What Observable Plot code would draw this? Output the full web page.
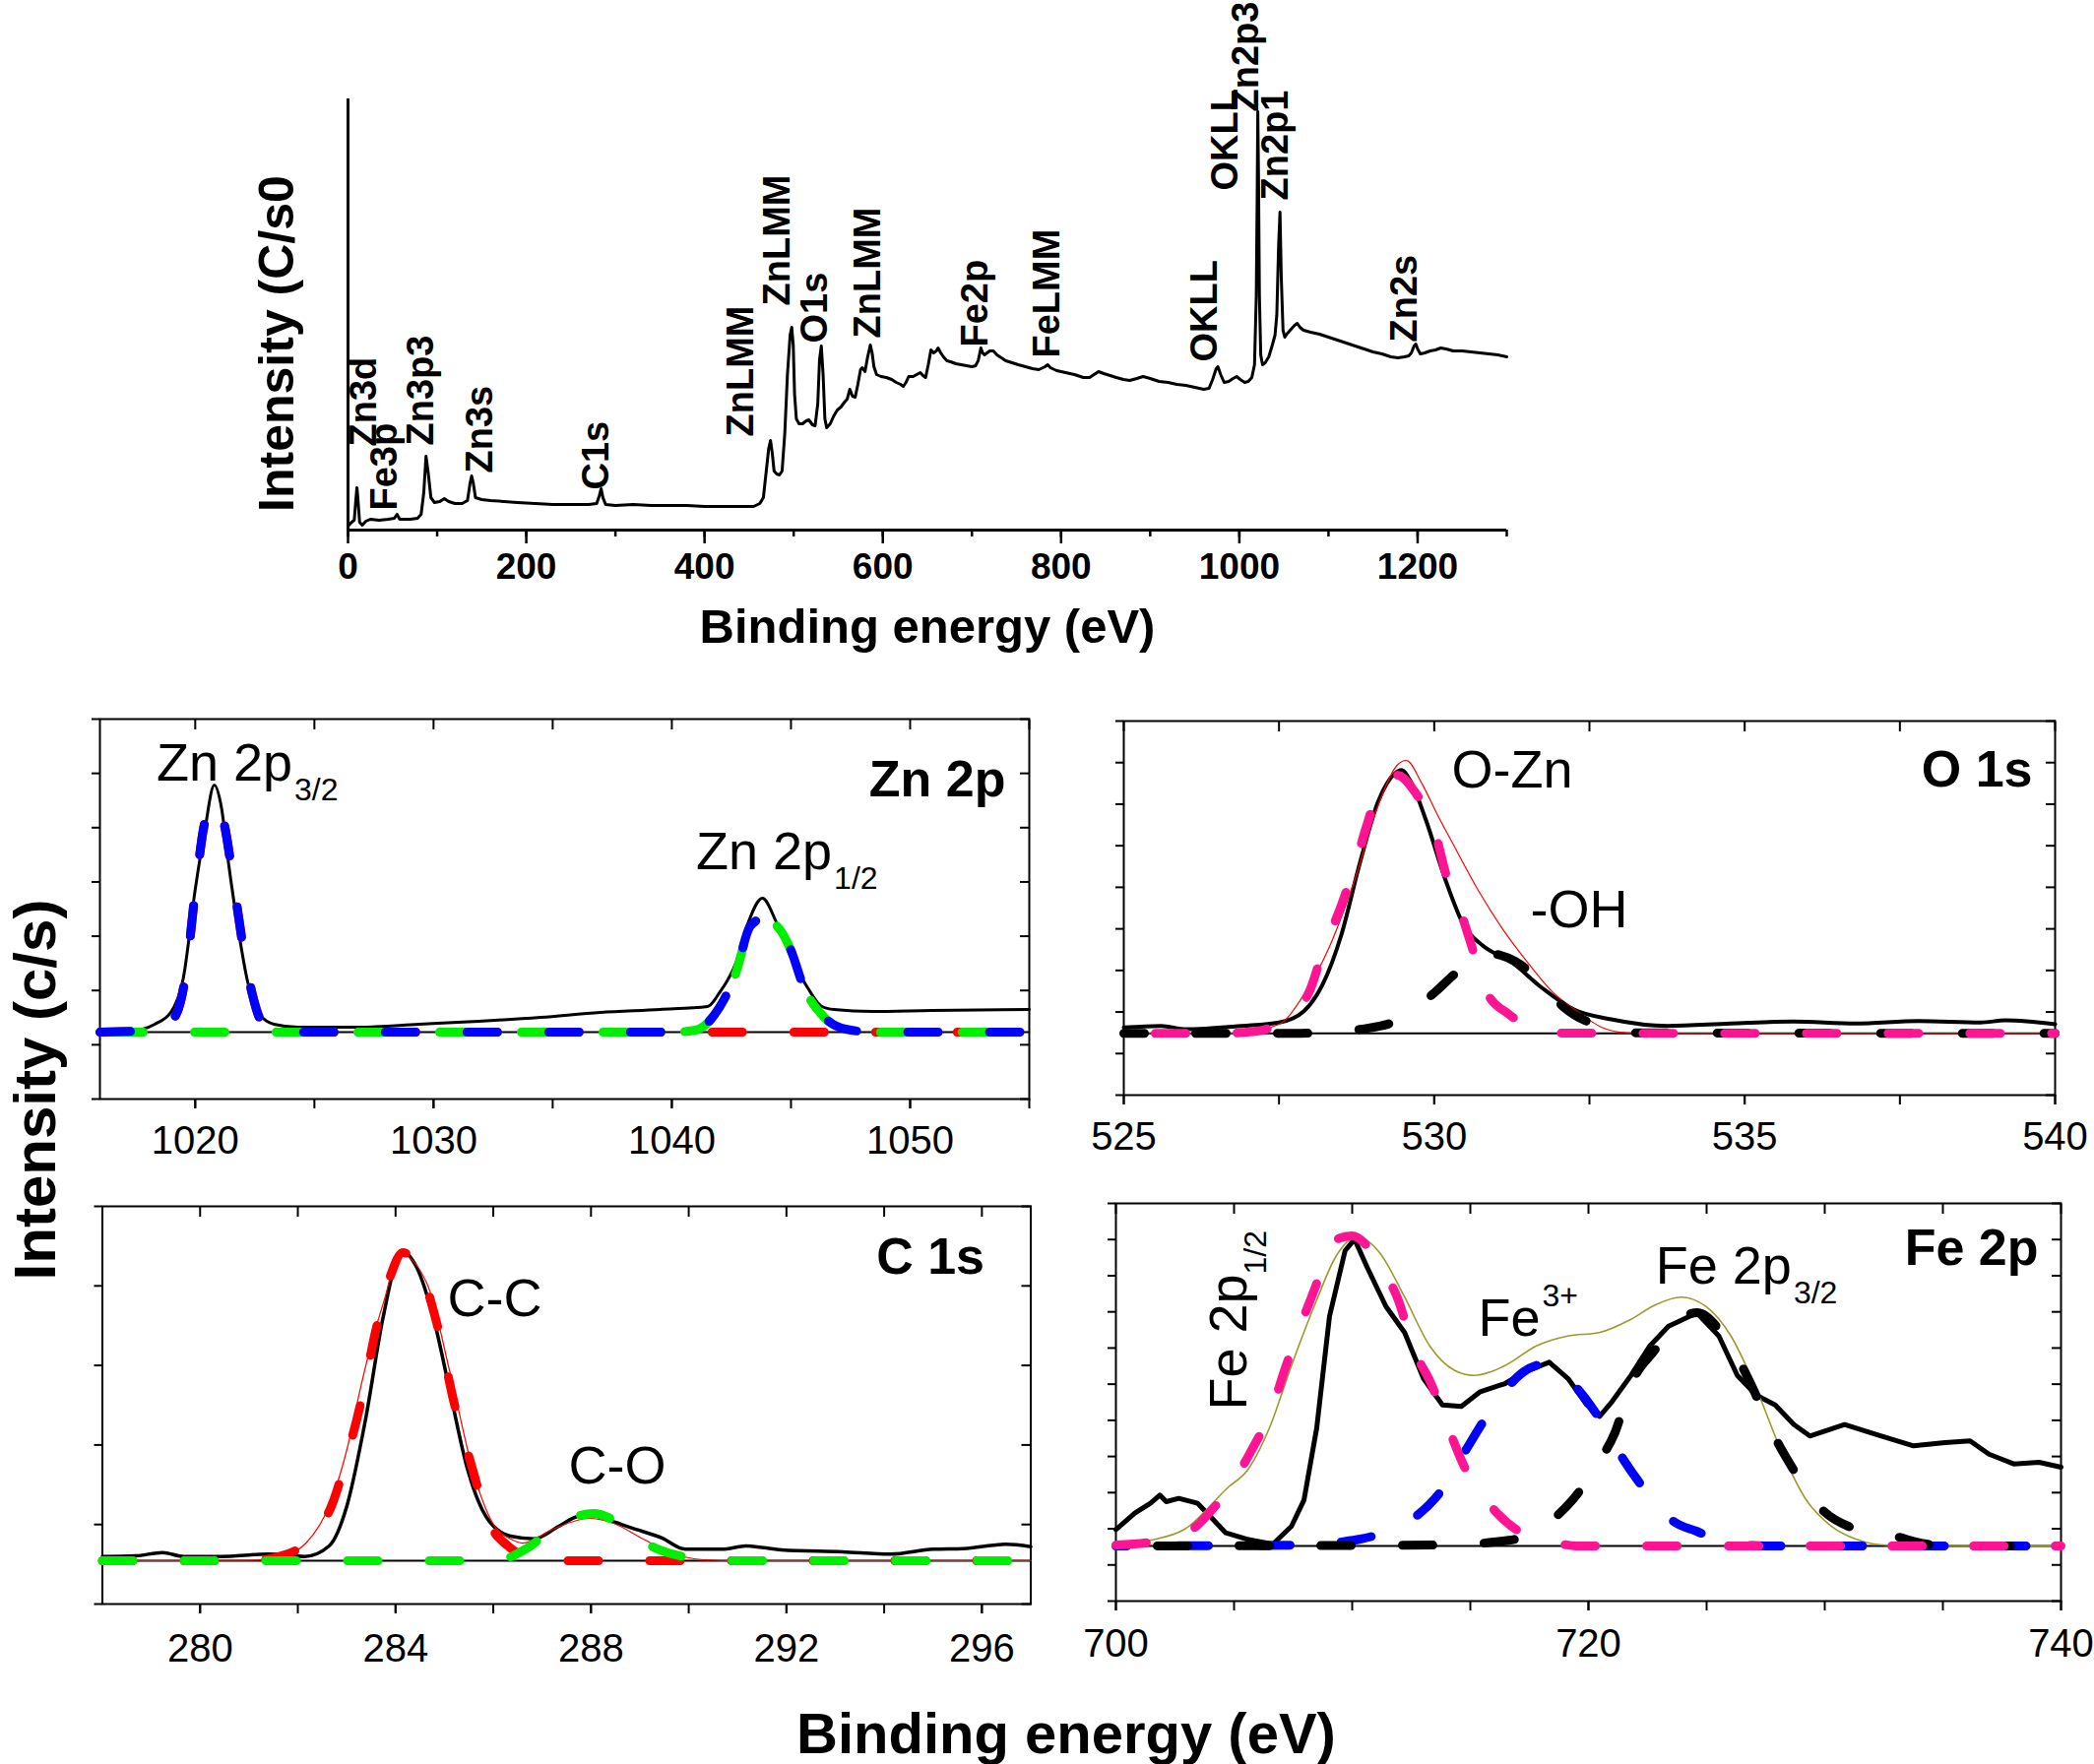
<!DOCTYPE html>
<html>
<head>
<meta charset="utf-8">
<script src="https://cdn.jsdelivr.net/npm/d3@7"></script>
<script src="https://cdn.jsdelivr.net/npm/@observablehq/plot@0.6"></script>
<style>
  html, body { margin: 0; padding: 0; background: #fff; }
  #root { position: relative; width: 2127px; height: 1792px; overflow: hidden; font-family: "Liberation Sans", Arial, Helvetica, sans-serif; color: #000; }
  .panel { position: absolute; }
  .panel svg { overflow: visible; max-width: none; }
  .lbl { position: absolute; font-weight: bold; white-space: nowrap; line-height: 1; }
</style>
</head>
<body>
<div id="root"></div>
<script>
// ---------------- DATA ----------------
// Survey spectrum: [binding energy (eV), intensity (arb. C/s)]
const survey = [
[0,4],[4,8],[7,10],[9,33],[10,43],[11,33],[13,8],[16,5],[20,9],[25,11],[35,10],[45,11],[52,12],[55,16],[58,11],[70,11],[78,12],[82,16],[85,38],[87.5,75],[90,58],[93,33],[97,28],[103,29],[108,32],[113,29],[120,27],[128,27],[134,30],[137,48],[138.7,55],[140.5,48],[143,33],[150,31],[160,30],[175,29],[190,28],[210,27],[230,26],[250,26],[270,26],[279,27],[282,35],[284,42],[286,33],[289,26],[300,25],[320,26],[340,25],[360,25],[380,25],[400,24],[420,24],[440,24],[455,24],[462,27],[466,33],[469,58],[472,83],[474,91],[476,78],[478,60],[481,57],[484,56],[487,60],[490,98],[493,158],[496,198],[497.8,206],[499.5,188],[501,138],[503,113],[506,108],[510,108],[514,111],[517,112],[521,107],[524,106],[527,128],[529,173],[531,187],[533,158],[535,113],[537,104],[541,108],[545,116],[549,122],[553,125],[557,130],[560,133],[563,143],[566,136],[569,135],[572,148],[575,163],[577,165],[580,161],[583,176],[586,188],[588,180],[590,166],[593,158],[598,156],[604,155],[610,153],[615,150],[620,148],[623,146],[626,150],[629,156],[634,156],[638,158],[642,160],[645,157],[648,155],[651,168],[654,183],[657,180],[660,182],[662,185],[665,180],[668,176],[672,172],[676,171],[682,169],[688,168],[694,167],[700,166],[704,167],[707,172],[710,185],[712,180],[714,178],[717,180],[720,182],[724,182],[728,178],[733,175],[738,172],[745,170],[752,168],[760,166],[768,164],[775,163],[782,166],[785,168],[788,165],[795,162],[805,160],[815,158],[825,155],[832,155],[837,158],[842,161],[848,159],[855,157],[862,155],[870,153],[877,152],[885,154],[892,156],[900,154],[910,151],[920,150],[930,148],[940,147],[950,145],[960,143],[966,144],[970,153],[974,164],[976,166],[979,158],[983,150],[988,151],[993,154],[997,156],[1001,153],[1006,150],[1010,151],[1014,155],[1017,168],[1019,238],[1020,338],[1020.7,425],[1021.5,358],[1022.5,238],[1024,178],[1026,168],[1029,170],[1033,176],[1037,188],[1040,198],[1042,218],[1044,288],[1045.6,323],[1047,258],[1049,203],[1051,196],[1054,200],[1058,204],[1062,208],[1065,210],[1068,206],[1072,203],[1080,201],[1090,199],[1100,196],[1110,193],[1120,190],[1130,187],[1140,184],[1150,181],[1160,179],[1170,176],[1178,175],[1185,176],[1190,177],[1193,180],[1196,187],[1198,189],[1200,184],[1203,179],[1208,180],[1214,182],[1220,183],[1226,185],[1232,184],[1240,182],[1250,182],[1260,181],[1270,180],[1280,179],[1290,178],[1300,176]
];
// Survey peak labels: [text, eV, intensity]
const surveyLabels = [
["Zn3d",31,85],["Fe3p",55,20],["Zn3p3",95.5,86],["Zn3s",162,58],["C1s",292,41],
["ZnLMM",454,95],["ZnLMM",495,228],["O1s",537,190],["ZnLMM",596.5,195],
["Fe2p",717,186],["FeLMM",798.5,175],["OKLL",975,171],["OKLL",998,345],
["Zn2p3",1021,425],["Zn2p1",1054,335],["Zn2s",1199,191]
];
const surveyMajorTicks = [0,200,400,600,800,1000,1200];
const surveyMinorTicks = [0,100,200,300,400,500,600,700,800,900,1000,1100,1200,1300];

// Zn 2p (intensity in arbitrary units, 1 unit = 1 axis tick interval)
const znData = [[1017.2,1.251],[1017.8,1.288],[1018.3,1.378],[1019.0,1.614],[1019.5,2.231],[1020.0,3.863],[1020.4,4.951],[1020.8,5.785],[1021.1,5.368],[1021.4,4.334],[1021.8,3.137],[1022.2,2.158],[1022.7,1.560],[1023.3,1.378],[1024.3,1.324],[1026.9,1.324],[1029.4,1.378],[1031.9,1.433],[1034.5,1.505],[1037.0,1.596],[1039.5,1.650],[1041.5,1.705],[1042.0,1.959],[1042.7,2.521],[1043.2,3.246],[1043.8,3.700],[1044.4,3.246],[1045.1,2.521],[1045.7,2.049],[1046.3,1.705],[1046.8,1.650],[1048.4,1.614],[1050.9,1.632],[1055.0,1.650]];
const znBase = 1.233;
const znFit32 = [[1016,1.233],[1018.5,1.269],[1019.2,1.560],[1019.6,2.285],[1020.0,3.827],[1020.4,5.096],[1020.8,5.459],[1021.2,5.096],[1021.6,4.008],[1022.0,2.829],[1022.4,1.922],[1022.8,1.415],[1023.5,1.233],[1055,1.233]];
const znFit12 = [[1016,1.233],[1040.0,1.233],[1041.0,1.269],[1041.8,1.560],[1042.7,2.340],[1043.3,3.192],[1043.8,3.319],[1044.4,3.192],[1045.0,2.738],[1045.5,2.104],[1046.4,1.505],[1047.3,1.288],[1048.5,1.233],[1055,1.233]];
const znFitSum = [[1016,1.233],[1018.5,1.269],[1019.2,1.560],[1019.6,2.285],[1020.0,3.827],[1020.4,5.096],[1020.8,5.459],[1021.2,5.096],[1021.6,4.008],[1022.0,2.829],[1022.4,1.922],[1022.8,1.415],[1023.5,1.233],[1040.0,1.233],[1041.0,1.269],[1041.8,1.560],[1042.7,2.340],[1043.3,3.192],[1043.8,3.319],[1044.4,3.192],[1045.0,2.738],[1045.5,2.104],[1046.4,1.505],[1047.3,1.288],[1048.5,1.233],[1055,1.233]];

// O 1s
const oData = [[525.0,1.627],[525.6,1.665],[526.0,1.587],[526.9,1.665],[527.5,1.746],[527.9,2.020],[528.2,2.653],[528.5,3.837],[528.8,5.573],[529.1,7.075],[529.37,7.745],[529.47,7.823],[529.62,7.549],[529.87,6.601],[530.18,5.180],[530.48,4.074],[530.78,3.600],[531.24,3.205],[531.74,2.575],[532.25,2.061],[532.85,1.824],[533.76,1.665],[534.77,1.722],[535.78,1.769],[536.79,1.722],[537.8,1.784],[538.8,1.746],[539.2,1.800],[540.0,1.705]];
const oBase = 1.485;
const oFitOZn = [[525,1.485],[526.6,1.49],[527.2,1.55],[527.6,1.85],[528.0,2.53],[528.2,3.43],[528.5,4.55],[528.7,5.42],[528.92,6.52],[529.12,7.39],[529.4,7.70],[529.7,7.27],[530.0,6.40],[530.2,5.26],[530.42,4.43],[530.6,3.6],[530.85,2.46],[531.2,1.95],[531.55,1.63],[532.1,1.49],[540,1.485]];
const oFitOH = [[525,1.485],[528.2,1.49],[528.8,1.58],[529.45,1.82],[530.0,2.46],[530.4,3.0],[530.85,3.41],[531.3,3.22],[531.7,2.75],[532.1,2.10],[532.66,1.66],[533.2,1.50],[540,1.485]];
const oFitSum = [[525,1.485],[526.8,1.492],[527.5,1.705],[527.9,2.416],[528.3,3.529],[528.7,5.092],[529.1,6.987],[529.4,7.934],[529.55,8.053],[529.8,7.5],[530.05,6.75],[530.3,6.05],[530.7,4.95],[531.1,4.0],[531.5,3.2],[531.9,2.49],[532.3,2.02],[532.7,1.63],[533.1,1.50],[533.5,1.485],[540,1.485]];

// C 1s
const cData = [[278.0,0.598],[278.68,0.606],[279.23,0.647],[279.67,0.598],[280.41,0.598],[281.4,0.627],[282.14,0.598],[282.64,0.730],[283.0,1.225],[283.38,2.302],[283.75,3.618],[284.06,4.360],[284.2,4.410],[284.43,4.236],[284.8,3.536],[285.1,2.710],[285.48,1.679],[285.85,1.101],[286.35,0.854],[286.84,0.821],[287.34,0.978],[287.72,1.101],[287.96,1.123],[288.33,1.061],[288.83,0.957],[289.44,0.833],[289.93,0.689],[290.68,0.689],[291.17,0.730],[291.9,0.681],[293.15,0.656],[294.14,0.627],[295.0,0.689],[295.62,0.697],[296.49,0.751],[297.0,0.722]];
const cBase = 0.545;
const cFitCC = [[278,0.545],[281.0,0.545],[281.8,0.631],[282.3,0.854],[282.7,1.250],[283.0,1.844],[283.3,2.562],[283.6,3.453],[283.9,4.134],[284.15,4.418],[284.5,4.196],[284.85,3.515],[285.2,2.525],[285.55,1.75],[285.9,1.040],[286.3,0.730],[286.8,0.582],[287.5,0.545],[297,0.545]];
const cFitCO = [[278,0.545],[285.5,0.545],[286.2,0.569],[286.7,0.705],[287.2,0.941],[287.7,1.101],[288.05,1.139],[288.5,1.040],[288.9,0.854],[289.4,0.681],[289.9,0.594],[290.5,0.545],[297,0.545]];
const cFitSum = [[278,0.545],[281.0,0.55],[281.68,0.606],[282.17,0.767],[282.66,1.262],[283.03,2.005],[283.28,2.710],[283.53,3.329],[283.77,3.824],[284.08,4.406],[284.64,4.035],[285.13,2.871],[285.62,1.597],[285.99,1.015],[286.36,0.817],[286.6,0.767],[287.22,0.941],[287.96,1.077],[288.46,1.015],[289.07,0.817],[289.69,0.631],[290.3,0.557],[291,0.545],[297,0.545]];

// Fe 2p
const feData = [[700.0,1.979],[700.8,2.431],[701.46,2.704],[701.86,2.932],[702.13,2.750],[702.66,2.840],[703.46,2.704],[704.12,2.252],[704.65,1.887],[705.58,1.707],[706.64,1.571],[707.43,2.069],[707.96,2.796],[708.5,4.792],[709.04,7.876],[709.7,9.692],[710.1,10.011],[710.63,9.238],[711.43,8.149],[712.22,7.425],[713.02,6.153],[713.82,5.426],[714.62,5.383],[715.42,5.791],[716.47,6.017],[717.28,6.335],[718.34,6.608],[719.14,6.153],[719.93,5.426],[720.47,5.110],[721.0,5.519],[721.8,6.243],[722.6,7.060],[723.39,7.604],[724.59,7.969],[725.52,7.332],[726.3,6.243],[727.1,5.698],[727.9,5.426],[728.7,4.882],[729.37,4.566],[730.84,4.882],[732.16,4.609],[733.76,4.294],[735.09,4.383],[736.15,4.430],[736.95,4.065],[738.0,3.793],[739.07,3.839],[740.0,3.703]];
const feBase = 1.525;
const feFit12 = [[700.0,1.552],[701.5,1.634],[702.5,1.797],[703.3,2.015],[704.0,2.478],[704.6,2.940],[705.8,4.247],[706.5,5.146],[707.2,6.507],[707.7,7.433],[708.5,8.794],[709.0,9.747],[709.5,10.046],[710.0,10.10],[710.5,9.910],[711.15,9.284],[711.95,8.331],[712.6,6.970],[713.3,6.071],[714.07,4.792],[714.7,3.784],[716.07,2.478],[717.26,1.851],[718.5,1.634],[719.5,1.525],[740.0,1.525]];
const feFit3 = [[700,1.525],[708.0,1.552],[709.5,1.634],[710.35,1.715],[711.8,2.015],[712.8,2.396],[713.8,3.077],[714.7,4.057],[715.93,5.336],[717.26,6.344],[718.2,6.562],[719.12,6.153],[720.45,5.064],[721.5,3.893],[722.7,2.831],[723.6,2.205],[724.57,1.933],[726.03,1.579],[727.5,1.525],[740,1.525]];
const feFit32 = [[700,1.525],[714.0,1.552],[716.0,1.634],[717.4,1.797],[718.73,2.396],[719.6,3.022],[720.32,3.757],[721.12,4.656],[721.78,5.962],[722.84,6.970],[723.7,7.705],[724.6,7.977],[725.9,7.160],[726.96,5.881],[727.63,4.873],[728.69,3.621],[729.76,2.614],[731.0,2.069],[732.96,1.797],[734.29,1.579],[735.5,1.525],[740,1.525]];
const feFitSum = [[700.0,1.571],[701.5,1.688],[702.91,1.987],[704.77,3.158],[705.57,3.621],[706.5,4.792],[707.43,6.515],[708.5,8.331],[709.29,9.510],[710.22,10.073],[711.15,9.646],[712.21,8.421],[713.28,7.060],[714.34,6.379],[715.14,6.243],[716.47,6.515],[717.8,7.060],[719.12,7.332],[720.45,7.425],[721.78,7.787],[722.84,8.195],[723.91,8.405],[724.97,8.149],[726.03,7.332],[727.1,5.881],[728.16,4.157],[729.22,2.796],[730.29,2.069],[731.35,1.707],[732.68,1.544],[740,1.525]];

// Annotations: [text, subscript/superscript, eV, intensity]
const znAnno = [["Zn 2p","3/2",1024.08,5.86],["Zn 2p","1/2",1046.72,4.226]];
const oAnno = [["O-Zn",530.28,7.39],["-OH",531.55,4.05]];
const cAnno = [["C-C",285.06,3.62],["C-O",287.54,1.51]];
const feAnno = {p12: ["Fe 2p","1/2",705.5,9.04], fe3: ["Fe","3+",717.96,7.332], p32: ["Fe 2p","3/2",728.6,8.794]};

// ---------------- RENDER ----------------
const FONT = "'Liberation Sans', Arial, Helvetica, sans-serif";
const root = document.getElementById("root");
const pts = arr => arr.map(([x, y]) => ({x, y}));
function mount(el, left, top) {
  const d = document.createElement("div");
  d.className = "panel";
  d.style.left = left + "px";
  d.style.top = top + "px";
  d.appendChild(el);
  root.appendChild(d);
}
function label(text, css) {
  const d = document.createElement("div");
  d.className = "lbl";
  d.textContent = text;
  Object.assign(d.style, css);
  root.appendChild(d);
}
const styleBase = {fontFamily: FONT, overflow: "visible", background: "transparent", color: "black"};
const DASH = "31,52";
const dashed = (arr, color, offset) => Plot.line(pts(arr), {x: "x", y: "y", stroke: color, strokeWidth: 9, strokeDasharray: DASH, strokeDashoffset: offset, strokeLinecap: "round", curve: "monotone-x"});
const thin = (arr, color, w) => Plot.line(pts(arr), {x: "x", y: "y", stroke: color, strokeWidth: w, curve: "monotone-x"});
const dataLine = (arr, w, curve) => Plot.line(pts(arr), {x: "x", y: "y", stroke: "black", strokeWidth: w, curve: curve, strokeLinejoin: "round"});
const blank = () => "";

// Top survey panel
mount(Plot.plot({
  width: 1600, height: 700,
  marginLeft: 353, marginRight: 70, marginTop: 100, marginBottom: 162,
  x: {domain: [0, 1300], axis: null},
  y: {domain: [0, 438], axis: null},
  style: styleBase,
  marks: [
    Plot.axisX({ticks: surveyMinorTicks, tickSize: 7, tickFormat: blank, label: null, strokeWidth: 2.5}),
    Plot.axisX({ticks: surveyMajorTicks, tickSize: 14, tickPadding: 9, tickFormat: d => String(d), label: null, fontSize: 37, fontWeight: "bold", strokeWidth: 2.5}),
    Plot.ruleY([0], {strokeWidth: 3}),
    Plot.ruleX([0], {strokeWidth: 3}),
    Plot.line(pts(survey), {x: "x", y: "y", stroke: "black", strokeWidth: 3, strokeLinejoin: "round"}),
    Plot.text(surveyLabels, {x: d => d[1], y: d => d[2], text: d => d[0], rotate: -90, textAnchor: "start", lineAnchor: "bottom", fontSize: 38, fontWeight: "bold", fill: "black"})
  ]
}), 0, 0);

function panel(o) {
  const yTicks = d3.range(0, o.yN + 1);
  return Plot.plot({
    width: o.width, height: o.height,
    marginLeft: o.ml, marginRight: o.mr, marginTop: o.mt, marginBottom: o.mb,
    x: {domain: o.xDomain, axis: null},
    y: {domain: [0, o.yN], axis: null},
    style: styleBase,
    marks: [
      Plot.axisX({anchor: "bottom", ticks: o.xMinor, tickSize: 10, tickFormat: blank, label: null, strokeWidth: 2}),
      Plot.axisX({anchor: "bottom", ticks: o.xMajor, tickSize: 10, tickPadding: o.pad, tickFormat: d => String(d), label: null, fontSize: 40, strokeWidth: 2}),
      Plot.axisX({anchor: "top", ticks: o.xMinor, tickSize: -10, tickFormat: blank, label: null, strokeWidth: 2}),
      Plot.axisY({anchor: "left", ticks: yTicks, tickSize: 8, tickFormat: blank, label: null, strokeWidth: 2}),
      Plot.axisY({anchor: "right", ticks: yTicks, tickSize: -10, tickFormat: blank, label: null, strokeWidth: 2}),
      Plot.frame({stroke: "black", strokeWidth: 2}),
      ...o.marks,
      Plot.text([o.title], {frameAnchor: "top-right", dx: o.tdx, dy: o.tdy, textAnchor: "end", lineAnchor: "bottom", fontSize: 52, fontWeight: "bold", fill: "black"})
    ]
  });
}
const annoMain = (arr, opts) => Plot.text(arr, {x: d => d[2], y: d => d[3], text: d => d[0], textAnchor: "end", lineAnchor: "bottom", fontSize: 54, fill: "black", ...opts});
const annoSub = (arr, opts) => Plot.text(arr, {x: d => d[2], y: d => d[3], text: d => d[1], textAnchor: "start", lineAnchor: "bottom", fontSize: 32, fill: "black", ...opts});
const annoPlain = (arr) => Plot.text(arr, {x: d => d[1], y: d => d[2], text: d => d[0], textAnchor: "start", lineAnchor: "bottom", fontSize: 54, fill: "black"});

// Zn 2p
mount(panel({
  width: 1100, height: 500, ml: 101, mr: 55, mt: 30, mb: 84,
  xDomain: [1016, 1055], yN: 7,
  xMinor: [1020,1025,1030,1035,1040,1045,1050,1055], xMajor: [1020,1030,1040,1050], pad: 17,
  title: "Zn 2p", tdx: -24, tdy: 78,
  marks: [
    Plot.ruleY([znBase], {stroke: "black", strokeWidth: 2}),
    dataLine(znData, 3, "monotone-x"),
    dashed(znFit32, "#ff0000", 0),
    dashed(znFit12, "#00ee00", 70),
    dashed(znFitSum, "#0000ff", 0),
    annoMain(znAnno, {dx: 0}),
    annoSub(znAnno, {dx: 2, dy: 20})
  ]
}), 0, 700);

// O 1s
mount(panel({
  width: 1027, height: 500, ml: 41, mr: 40, mt: 32, mb: 88,
  xDomain: [525, 540], yN: 9,
  xMinor: [525,527.5,530,532.5,535,537.5,540], xMajor: [525,530,535,540], pad: 17,
  title: "O 1s", tdx: -23, tdy: 66,
  marks: [
    Plot.ruleY([oBase], {stroke: "black", strokeWidth: 2}),
    dataLine(oData, 4, "monotone-x"),
    thin(oFitSum, "#ff0000", 1.2),
    dashed(oFitOH, "#000000", 10),
    dashed(oFitOZn, "#ff1493", 51),
    annoPlain(oAnno)
  ]
}), 1100, 700);

// C 1s
mount(panel({
  width: 1100, height: 520, ml: 103.5, mr: 53.5, mt: 25, mb: 91,
  xDomain: [278, 297], yN: 5,
  xMinor: [280,282,284,286,288,290,292,294,296], xMajor: [280,284,288,292,296], pad: 20,
  title: "C 1s", tdx: -47, tdy: 68,
  marks: [
    Plot.ruleY([cBase], {stroke: "black", strokeWidth: 2}),
    dataLine(cData, 3.5, "monotone-x"),
    thin(cFitSum, "#ff0000", 1.2),
    dashed(cFitCC, "#ff0000", 0),
    dashed(cFitCO, "#00ee00", 0),
    annoPlain(cAnno)
  ]
}), 0, 1200);

// Fe 2p
const feP12 = [feAnno.p12], feF3 = [feAnno.fe3], feP32 = [feAnno.p32];
mount(panel({
  width: 1027, height: 520, ml: 33, mr: 34, mt: 22, mb: 94,
  xDomain: [700, 740], yN: 11,
  xMinor: [700,705,710,715,720,725,730,735,740], xMajor: [700,720,740], pad: 18,
  title: "Fe 2p", tdx: -23, tdy: 62,
  marks: [
    Plot.ruleY([feBase], {stroke: "black", strokeWidth: 2}),
    dataLine(feData, 5, "linear"),
    thin(feFitSum, "#9c9a2c", 1.6),
    dashed(feFit3, "#0000ff", 20),
    dashed(feFit32, "#000000", 41),
    dashed(feFit12, "#ff1493", 0),
    annoMain(feP12, {rotate: -90}),
    annoSub(feP12, {rotate: -90, dx: 20}),
    annoMain(feF3, {}),
    annoSub(feF3, {dx: 2, dy: -30}),
    annoMain(feP32, {}),
    annoSub(feP32, {dx: 2, dy: 20})
  ]
}), 1100, 1200);

// Axis titles
label("Intensity (C/s0", {fontSize: "50px", left: "281px", top: "349px", transform: "translate(-50%,-50%) rotate(-90deg)"});
label("Binding energy (eV)", {fontSize: "49px", left: "942px", top: "612px", transform: "translateX(-50%)"});
label("Intensity (c/s)", {fontSize: "60px", left: "36px", top: "1107px", transform: "translate(-50%,-50%) rotate(-90deg)"});
label("Binding energy (eV)", {fontSize: "58px", left: "1083px", top: "1732px", transform: "translateX(-50%)"});
</script>
</body>
</html>
